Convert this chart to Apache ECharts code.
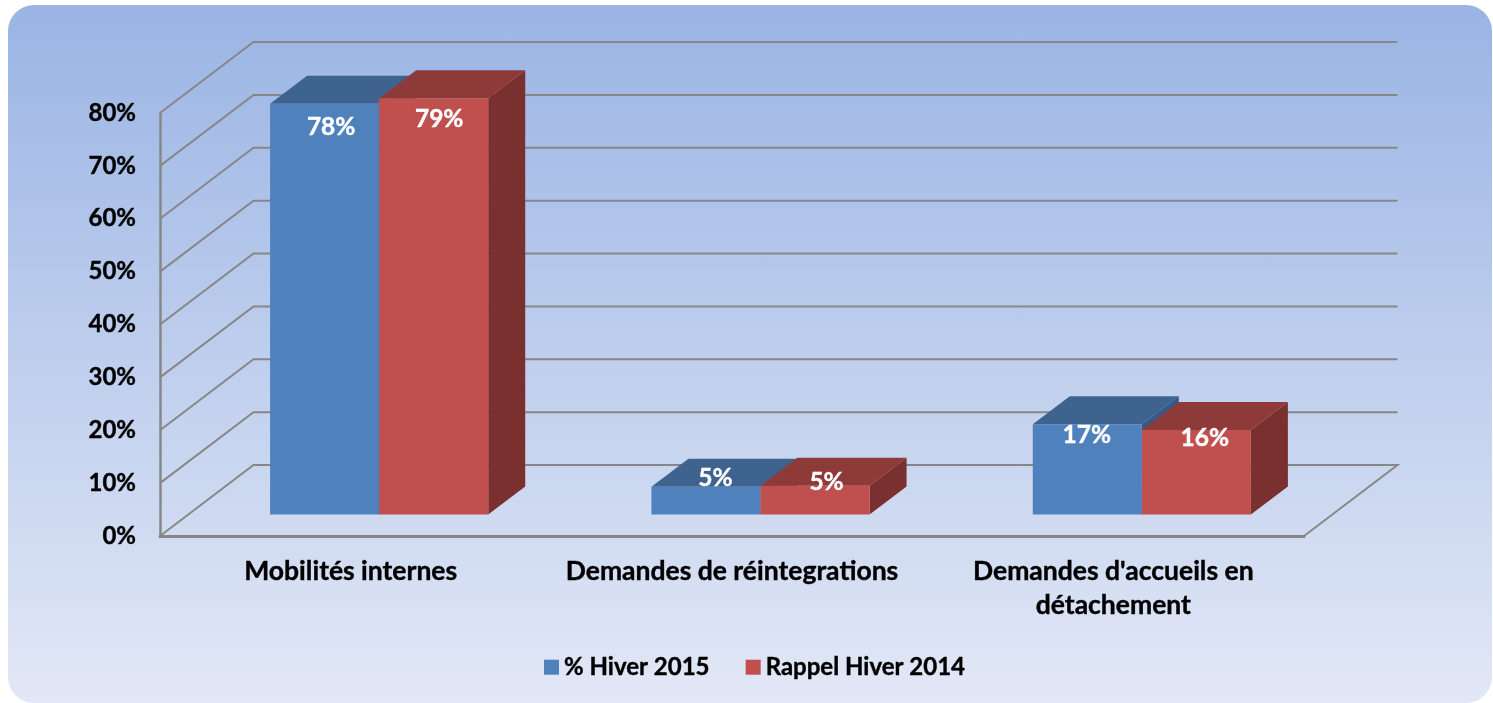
<!DOCTYPE html>
<html>
<head>
<meta charset="utf-8">
<title>Mobilités</title>
<script src="https://cdn.jsdelivr.net/npm/echarts@6/dist/echarts.min.js"></script>
<style>
  html, body { margin: 0; padding: 0; background: #fff; overflow: hidden; }
  #card { position: absolute; left: 8px; top: 5px; width: 1484px; height: 698px; border-radius: 26px;
          background: linear-gradient(to bottom, #9ab4e4 0%, #e2e8f6 100%); }
  #chart { position: absolute; left: 0; top: 0; width: 1493px; height: 703px; }
</style>
</head>
<body>
<div id="card"></div>
<div id="chart"></div>
<script>
const categories = ['Mobilités internes', 'Demandes de réintegrations', "Demandes d'accueils en\ndétachement"];
const seriesNames = ['% Hiver 2015', 'Rappel Hiver 2014'];
const hiver2015 = [77.7, 5.25, 17.05];
const rappel2014 = [78.7, 5.45, 16];
const yTicks = [0, 10, 20, 30, 40, 50, 60, 70, 80];

// depth of the fake 3D box, in pixels
const wallDx = 93.5, wallDy = -71;
const barShiftX = 28.5, barShiftY = -21.5;
const barDx = 37, barDy = -28;
const barShare = 0.286; // part of a category band

const blue = { front: '#4f81bd', top: '#3e638f', side: '#345a88' };
const red = { front: '#c0504d', top: '#8e3a38', side: '#7a302e' };

// the labels do not sit at a fixed place in the original
const blueNudge = [[6.5, 23], [9.5, -9], [-0.5, 10.5]];
const redNudge = [[5.5, 21], [11.5, -4], [8.5, 8.5]];

const textBold = { fontFamily: 'Lato', fontWeight: 'bold', color: '#000', textBorderColor: '#000', textBorderWidth: 0.4 };

function renderWall(params, api) {
  const cs = params.coordSys;
  const y = api.coord([0, api.value(1)])[1];
  const left = cs.x, right = cs.x + cs.width;
  const pts = [[left, y], [left + wallDx, y + wallDy], [right + wallDx, y + wallDy]];
  if (api.value(1) === 0) pts.push([right, y]);
  return {
    type: 'polyline',
    shape: { points: pts },
    style: { stroke: '#878787', lineWidth: 2, fill: 'none' }
  };
}

function barRenderer(colors, side, nudges) {
  return function (params, api) {
    const i = api.value(0), v = api.value(1);
    const w = api.size([1, 0])[0] * barShare;
    const base = api.coord([i, 0]);
    const top = api.coord([i, v]);
    const x0 = base[0] + barShiftX + (side < 0 ? -w : 0);
    const x1 = x0 + w;
    const y0 = base[1] + barShiftY;
    const y1 = top[1] + barShiftY;
    const front = [[x0, y0], [x1, y0], [x1, y1], [x0, y1]];
    const roof = [[x0, y1], [x1, y1], [x1 + barDx, y1 + barDy], [x0 + barDx, y1 + barDy]];
    const flank = [[x1, y0], [x1 + barDx, y0 + barDy], [x1 + barDx, y1 + barDy], [x1, y1]];
    const n = nudges[i];
    return {
      type: 'group',
      children: [
        { type: 'polygon', shape: { points: flank }, style: { fill: colors.side } },
        { type: 'polygon', shape: { points: roof }, style: { fill: colors.top } },
        { type: 'polygon', shape: { points: front }, style: { fill: colors.front } },
        {
          type: 'text',
          z2: 10,
          style: {
            x: (x0 + x1) / 2 + n[0],
            y: y1 + n[1],
            text: Math.round(v) + '%',
            fill: '#fff',
            stroke: '#fff',
            lineWidth: 0.4,
            font: 'bold 24.5px Lato',
            align: 'center',
            verticalAlign: 'middle'
          }
        }
      ]
    };
  };
}

const chart = echarts.init(document.getElementById('chart'));
chart.setOption({
  animation: false,
  grid: { left: 160, top: 113, width: 1144, height: 423 },
  legend: {
    data: seriesNames,
    left: 539,
    top: 650,
    icon: 'rect',
    itemWidth: 15,
    itemHeight: 15,
    itemGap: 36,
    textStyle: Object.assign({ fontSize: 24 }, textBold)
  },
  xAxis: {
    type: 'category',
    data: categories,
    axisLine: { lineStyle: { color: '#878787', width: 3 } },
    axisTick: { show: false },
    axisLabel: Object.assign({ margin: 18, fontSize: 26.5, lineHeight: 34, interval: 0 }, textBold)
  },
  yAxis: {
    type: 'value',
    min: 0,
    max: 80,
    interval: 10,
    splitLine: { show: false },
    axisLine: { show: true, lineStyle: { color: '#878787', width: 2.5 } },
    axisTick: { show: false },
    axisLabel: Object.assign({ formatter: '{value}%', margin: 24, fontSize: 24, padding: [2, 0, 0, 0] }, textBold)
  },
  series: [
    {
      type: 'custom', name: 'walls', silent: true, z: 1,
      renderItem: renderWall,
      data: yTicks.map(v => [0, v])
    },
    {
      type: 'custom', name: seriesNames[0], z: 2,
      itemStyle: { color: blue.front },
      renderItem: barRenderer(blue, -1, blueNudge),
      data: hiver2015.map((v, i) => [i, v])
    },
    {
      type: 'custom', name: seriesNames[1], z: 3,
      itemStyle: { color: red.front },
      renderItem: barRenderer(red, 1, redNudge),
      data: rappel2014.map((v, i) => [i, v])
    }
  ]
});
</script>
</body>
</html>
